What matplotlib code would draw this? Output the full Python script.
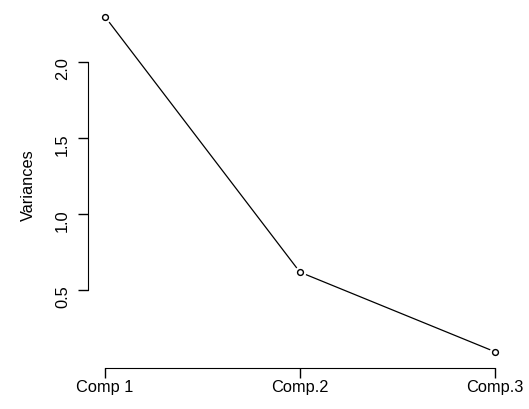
#Scree plot of component variances
import numpy as np
import matplotlib
matplotlib.use('Agg')
import matplotlib.pyplot as plt

# Data
comps = ['Comp 1', 'Comp.2', 'Comp.3']
variances = [2.30, 0.618, 0.094]
yticks = [0.5, 1.0, 1.5, 2.0]

plt.rcParams['font.family'] = ['Liberation Sans', 'DejaVu Sans']
x = np.arange(1, len(comps) + 1)

fig = plt.figure(figsize=(5.29, 4.10), dpi=100)
ax = fig.add_axes([0.169, 0.107, 0.796, 0.8825])
# line with small gaps round the points, like R type="b"
ax.plot(x, variances, color='black', linewidth=0.9)
ax.plot(x, variances, 'o', color='white', markersize=8.5,
        markeredgewidth=0)
ax.plot(x, variances, 'o', markerfacecolor='white',
        markeredgecolor='black', markersize=4.2, markeredgewidth=1.0)

ymin, ymax = min(variances), max(variances)
pad = 0.04 * (ymax - ymin)
ax.set_ylim(ymin - pad, ymax + pad)
ax.set_xlim(0.92, 3.08)

ax.set_xticks(x)
ax.set_xticklabels(comps)
ax.set_yticks(yticks)
ax.set_yticklabels([f'{v:.1f}' for v in yticks])
ax.tick_params(axis='y', labelrotation=90, length=7, width=1,
               pad=6, labelsize=11.8)
ax.tick_params(axis='x', length=7, width=1, pad=1,
               labelsize=11.8)
for lab in ax.get_yticklabels():
    lab.set_verticalalignment('center')
ax.set_ylabel('Variances', fontsize=11.8, labelpad=14)

ax.spines['top'].set_visible(False)
ax.spines['right'].set_visible(False)
ax.spines['left'].set_bounds(yticks[0], yticks[-1])
ax.spines['bottom'].set_bounds(1, 3)
ax.spines['left'].set_position(('outward', 1))
ax.spines['bottom'].set_position(('outward', 2))

fig.savefig('out.png', dpi=100)
